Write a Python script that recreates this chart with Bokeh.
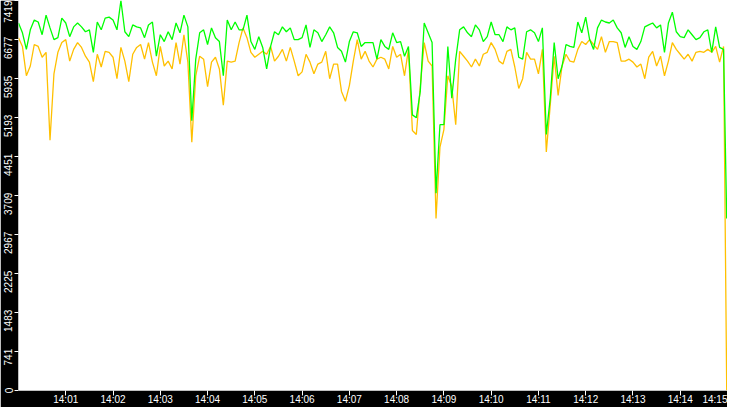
import pandas as pd
from bokeh.plotting import figure
from bokeh.models import Range1d, FixedTicker, DatetimeTickFormatter, ColumnDataSource
from bokeh.embed import file_html
from bokeh.resources import INLINE

# ---------------- data ----------------
day = "2024-01-01"
start_clock = "14:00:00"
end_clock = "14:15:00"

# seconds after 14:00:00 at which the samples were taken
sample_seconds = list(range(0, 900, 5)) + [899]

green_values = [
    6991, 6805, 6489, 6861, 7047, 7010, 6768, 7140, 6898, 6675, 6712, 7084, 6991, 6731, 6917, 6991,
    6917, 6824, 6861, 6433, 7010, 6861, 7084, 7103, 7047, 6861, 7419, 6824, 6731, 6954, 6917, 6898,
    6712, 6954, 7010, 6359, 6768, 6638,
    6824, 6675, 6991, 6805, 7140, 6917, 5131, 6303, 6805, 6861, 6582, 6898, 6712, 6638, 5987, 7047,
    6861, 7010, 6861, 6861, 7140, 6638, 6489, 6731, 6526, 6117, 6545, 6824, 6768, 6917, 6824, 6898,
    6675, 6675, 6712, 6954,
    6526, 6861, 6805, 6638, 6768, 6917, 6805, 6526, 6452, 6247, 6638, 6824, 6805, 6545, 6619, 6619,
    6619, 6303, 6675, 6545, 6489, 6805, 6619, 6638, 6359, 6545, 5243, 5187, 5689, 6991, 6805, 6619,
    3755, 5057, 5057, 6545,
    5559, 6303, 6861, 6917, 6805, 6731, 6954, 6861, 6638, 6731, 7010, 6768, 6768, 6638, 6917, 6861,
    6898, 6340, 6303, 6824, 6861, 6805, 6638, 6898, 4871, 5559, 6619, 5931, 6173, 6582, 6545, 6526,
    7010, 6805, 7103, 6675, 6489,
    6898, 7047, 7010, 6991, 7047, 6898, 6805, 6526, 6731, 6545, 6489, 6638, 6917, 6954, 6991, 6898,
    6954, 6433, 6991, 7196, 6824, 6731, 6712, 6861, 6768, 6675, 6712, 6824, 6861, 6433, 6917, 6526,
    6489, 3271,
]

orange_values = [
    6712, 6545, 5987, 6173, 6582, 6545, 6340, 6433, 4759, 6024, 6433, 6619, 6675, 6266, 6489, 6619,
    6526, 6359, 6247, 5875, 6396, 6154, 6452, 6433, 6340, 5931, 6526, 6266, 5875, 6396, 6526, 6582,
    6303, 6619, 6247, 5987, 6545, 6173,
    6266, 6117, 6619, 6210, 6768, 6247, 4722, 5987, 6359, 6303, 5782, 6247, 6340, 6117, 5429, 6266,
    6247, 6266, 6619, 6898, 6712, 6433, 6340, 6396, 6452, 6396, 6545, 6266, 6359, 6489, 6266, 6526,
    6266, 5987, 6061, 6396,
    6247, 6024, 6210, 6247, 6452, 5931, 6210, 6210, 5689, 5503, 5801, 6266, 6675, 6303, 6452, 6266,
    6154, 6303, 6340, 6303, 6117, 6545, 6340, 6396, 5987, 6489, 4945, 4871, 5782, 6619, 6266, 6173,
    3271, 4629, 4964, 5987,
    5782, 5057, 6452, 6359, 6266, 6154, 6303, 6173, 6396, 6433, 6619, 6489, 6266, 6210, 6452, 6489,
    6154, 5745, 5931, 6433, 6303, 6303, 6024, 6489, 4536, 5429, 6359, 5615, 6173, 6396, 6266, 6247,
    6489, 6638, 6582, 6675, 6582,
    6489, 6731, 6433, 6638, 6638, 6619, 6266, 6266, 6303, 6247, 6154, 6210, 5931, 6340, 6452, 6173,
    6359, 5987, 6266, 6619, 6489, 6396, 6303, 6396, 6266, 6433, 6452, 6433, 6489, 6433, 6545, 6247,
    6545, 0,
]

x_tick_labels = ["14:01", "14:02", "14:03", "14:04", "14:05", "14:06", "14:07", "14:08",
                 "14:09", "14:10", "14:11", "14:12", "14:13", "14:14", "14:15"]
y_tick_labels = ["0", "741", "1483", "2225", "2967", "3709", "4451", "5193", "5935", "6677", "7419"]

# ---------------- build ----------------
t0 = pd.Timestamp(f"{day} {start_clock}")
t1 = pd.Timestamp(f"{day} {end_clock}")
times = [t0 + pd.Timedelta(seconds=s) for s in sample_seconds]
src = ColumnDataSource(dict(t=times, green=green_values, orange=orange_values))

epoch = pd.Timestamp("1970-01-01")
x_ticks = [(pd.Timestamp(f"{day} {lbl}:00") - epoch).total_seconds() * 1000.0 for lbl in x_tick_labels]
y_ticks = [int(s) for s in y_tick_labels]

p = figure(width=727, height=407, x_axis_type="datetime",
           x_range=Range1d(t0, t1), y_range=Range1d(0, int(y_tick_labels[-1])),
           output_backend="svg", toolbar_location=None,
           border_fill_color="black", background_fill_color="white",
           outline_line_color=None, min_border=0)

p.line(x="t", y="orange", source=src, line_color="#ffc000", line_width=1.3)
p.line(x="t", y="green", source=src, line_color="#00ff00", line_width=1.3)

p.grid.visible = False

fmt = "%H:%M"
p.xaxis.ticker = FixedTicker(ticks=x_ticks)
p.xaxis.formatter = DatetimeTickFormatter(seconds=fmt, minsec=fmt, minutes=fmt,
                                          hourmin=fmt, hours=fmt)
p.yaxis.ticker = FixedTicker(ticks=y_ticks)
# labels sit just below their tick (text reads upward and ends at the tick)
overrides = {int(s): s + "\u2007" * (len(s) - 1) for s in y_tick_labels[:-1]}
overrides[int(y_tick_labels[-1])] = y_tick_labels[-1]
p.yaxis.major_label_overrides = overrides
p.yaxis.major_label_orientation = "vertical"

for ax in (p.xaxis[0], p.yaxis[0]):
    ax.axis_line_color = None
    ax.major_tick_line_color = "white"
    ax.major_tick_in = 0
    ax.minor_tick_line_color = None
    ax.major_label_standoff = 0
    ax.major_label_text_color = "white"
    ax.major_label_text_font = "Liberation Sans"
    ax.major_label_text_font_size = "10px"
p.xaxis.major_tick_out = 5
p.xaxis.major_label_standoff = -2
p.yaxis.major_tick_out = 4

open("out.html", "w").write(file_html(p, INLINE))
